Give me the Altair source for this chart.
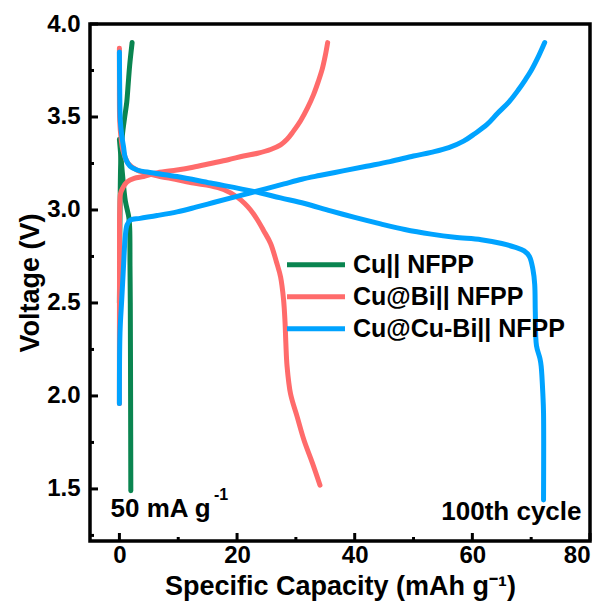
import altair as alt
import pandas as pd

# ---------------- data ----------------
series_names = ["Cu|| NFPP", "Cu@Bi|| NFPP", "Cu@Cu-Bi|| NFPP"]
series_colors = ["#0A8550", "#FF6B6B", "#00A3FF"]

cu_charge_cap = [0.0, 0.05, 0.12, 0.25, 0.5, 0.9, 1.25, 1.5, 1.75, 2.16]
cu_charge_v = [2.50, 2.75, 3.05, 3.28, 3.40, 3.50, 3.58, 3.68, 3.78, 3.90]
cu_dis_cap = [0.0, 0.5, 1.0, 1.6, 1.75, 1.8, 1.85, 1.9, 1.94]
cu_dis_v = [3.38, 3.20, 3.05, 2.96, 2.90, 2.70, 2.50, 2.00, 1.49]

bi_charge_cap = [0.0, 0.0, 0.02, 0.05, 0.2, 0.6, 1.26, 2.5, 4.1, 6.5, 9.8, 12.5, 15.5,
                 18.5, 21.1, 23.5, 25.7, 27.4, 28.5, 29.5, 30.8, 32.0, 33.0, 33.8, 34.5,
                 35.0, 35.4]
bi_charge_v = [1.96, 2.30, 2.70, 3.00, 3.09, 3.12, 3.15, 3.17, 3.18, 3.20, 3.215, 3.23, 3.25,
               3.27, 3.29, 3.305, 3.325, 3.35, 3.38, 3.42, 3.48, 3.55, 3.62, 3.69, 3.76,
               3.83, 3.90]
bi_dis_cap = [0.0, 0.0, 0.05, 0.3, 0.6, 1.5, 2.96, 4.5, 6.9, 9.5, 12.6, 15.5, 17.7, 20.0,
              21.3, 22.3, 23.4, 24.5, 25.7, 26.7, 27.4, 27.9, 28.15, 28.3, 28.5, 29.1, 30.2,
              31.4, 32.8, 34.1]
bi_dis_v = [3.87, 3.70, 3.48, 3.38, 3.32, 3.25, 3.215, 3.20, 3.18, 3.165, 3.145, 3.13, 3.11,
            3.07, 3.035, 3.00, 2.95, 2.89, 2.82, 2.72, 2.64, 2.52, 2.40, 2.28, 2.16, 2.01,
            1.89, 1.76, 1.64, 1.52]

cubi_charge_cap = [0.0, 0.1, 0.4, 0.7, 1.0, 1.3, 1.8, 3.5, 6.4, 9.8, 13.0, 16.0, 19.0, 22.0,
                   25.0, 28.0, 31.0, 34.0, 38.0, 42.0, 46.0, 50.0, 53.0, 56.0, 58.5, 60.4,
                   62.5, 64.3, 66.2, 67.8, 69.0, 70.0, 71.3, 72.3]
cubi_charge_v = [1.96, 2.34, 2.52, 2.70, 2.86, 2.92, 2.945, 2.955, 2.97, 2.99, 3.015, 3.04,
                 3.065, 3.09, 3.115, 3.14, 3.165, 3.185, 3.21, 3.235, 3.26, 3.29, 3.31, 3.335,
                 3.37, 3.41, 3.46, 3.52, 3.58, 3.645, 3.70, 3.75, 3.83, 3.90]
cubi_dis_cap = [0.0, 0.05, 0.15, 0.4, 0.7, 1.0, 1.8, 3.0, 5.5, 9.8, 15.5, 22.8, 27.4, 31.5,
                35.9, 40.0, 44.4, 48.5, 53.0, 57.0, 61.5, 65.0, 67.2, 68.8, 69.7, 70.3, 70.6,
                70.7, 70.9, 71.5, 71.7, 72.0, 72.1, 72.1]
cubi_dis_v = [3.85, 3.65, 3.48, 3.40, 3.34, 3.28, 3.235, 3.215, 3.20, 3.18, 3.145, 3.10, 3.065,
              3.035, 2.995, 2.96, 2.925, 2.895, 2.87, 2.853, 2.84, 2.82, 2.80, 2.78, 2.75, 2.68,
              2.60, 2.45, 2.27, 2.20, 2.16, 2.00, 1.91, 1.44]

x_major = [0, 20, 40, 60, 80]
x_minor = [10, 30, 50, 70]
y_major = [1.5, 2.0, 2.5, 3.0, 3.5, 4.0]
y_minor = [1.25, 1.75, 2.25, 2.75, 3.25, 3.75]

# ---------------- build table ----------------
rows = []
branches = [
    (series_names[0], "charge", cu_charge_cap, cu_charge_v),
    (series_names[0], "discharge", cu_dis_cap, cu_dis_v),
    (series_names[1], "charge", bi_charge_cap, bi_charge_v),
    (series_names[1], "discharge", bi_dis_cap, bi_dis_v),
    (series_names[2], "charge", cubi_charge_cap, cubi_charge_v),
    (series_names[2], "discharge", cubi_dis_cap, cubi_dis_v),
]
for s, b, caps, vs in branches:
    for i, (c, v) in enumerate(zip(caps, vs)):
        rows.append({"series": s, "branch": s + b, "cap": c, "v": v, "i": i})
df = pd.DataFrame(rows)

FONT = "Liberation Sans"
W, H = 500, 517

xscale = alt.Scale(domain=[-5, 80], nice=False, zero=False)
yscale = alt.Scale(domain=[1.22, 4.0], nice=False, zero=False)

lines = alt.Chart(df).mark_line(
    strokeWidth=5, strokeCap="round", strokeJoin="round", interpolate="catmull-rom"
).encode(
    x=alt.X("cap:Q", scale=xscale,
            axis=alt.Axis(values=x_major, ticks=False, domain=False, grid=False,
                          labelFontSize=24, labelFont=FONT, labelFontWeight="bold",
                          labelColor="black", labelPadding=2,
                          title="Specific Capacity (mAh g\u207b\u00b9)",
                          titleFontSize=27, titleFont=FONT, titleFontWeight="bold",
                          titleColor="black", titlePadding=6)),
    y=alt.Y("v:Q", scale=yscale,
            axis=alt.Axis(values=y_major, format=".1f", ticks=False, domain=False, grid=False,
                          labelFontSize=24, labelFont=FONT, labelFontWeight="bold",
                          labelColor="black", labelPadding=10,
                          title="Voltage (V)",
                          titleFontSize=27, titleFont=FONT, titleFontWeight="bold",
                          titleColor="black", titlePadding=2)),
    color=alt.Color("series:N",
                    scale=alt.Scale(domain=series_names, range=series_colors),
                    legend=alt.Legend(title=None, orient="none", legendX=194.5, legendY=225,
                                      symbolType="stroke", symbolSize=3364,
                                      symbolStrokeWidth=5, labelFontSize=25,
                                      labelFont=FONT, labelFontWeight="bold",
                                      labelColor="black", labelOffset=5.5, labelLimit=0,
                                      clipHeight=31.5, rowPadding=0, padding=0)),
    detail="branch:N",
    order="i:Q",
)

xmaj = alt.Chart(pd.DataFrame({"t": x_major})).mark_rule(color="black", strokeWidth=3).encode(
    x=alt.X("t:Q", scale=xscale), y=alt.value(H), y2=alt.value(H - 8))
xmin = alt.Chart(pd.DataFrame({"t": x_minor})).mark_rule(color="black", strokeWidth=3).encode(
    x=alt.X("t:Q", scale=xscale), y=alt.value(H), y2=alt.value(H - 4))
ymaj = alt.Chart(pd.DataFrame({"t": y_major})).mark_rule(color="black", strokeWidth=3).encode(
    y=alt.Y("t:Q", scale=yscale), x=alt.value(0), x2=alt.value(8))
ymin = alt.Chart(pd.DataFrame({"t": y_minor})).mark_rule(color="black", strokeWidth=3).encode(
    y=alt.Y("t:Q", scale=yscale), x=alt.value(0), x2=alt.value(4))

one = pd.DataFrame({"a": [0]})
t1 = alt.Chart(one).mark_text(text="50 mA g", font=FONT, fontSize=26, fontWeight="bold",
                              color="black", align="left", baseline="alphabetic").encode(
    x=alt.value(20.5), y=alt.value(493))
t1s = alt.Chart(one).mark_text(text="-1", font=FONT, fontSize=16, fontWeight="bold",
                               color="black", align="left", baseline="alphabetic").encode(
    x=alt.value(124), y=alt.value(476))
t2 = alt.Chart(one).mark_text(text="100th cycle", font=FONT, fontSize=26, fontWeight="bold",
                              color="black", align="right", baseline="alphabetic").encode(
    x=alt.value(491.5), y=alt.value(496))

chart = alt.layer(lines, xmaj, xmin, ymaj, ymin, t1, t1s, t2).properties(
    width=W, height=H,
    autosize=alt.AutoSizeParams(type="none"),
    padding={"left": 90, "top": 24, "right": 15, "bottom": 64},
    background="white",
).configure_view(stroke="black", strokeWidth=3.5)

chart.save("out.html", embed_options={"renderer": "svg", "actions": False})
